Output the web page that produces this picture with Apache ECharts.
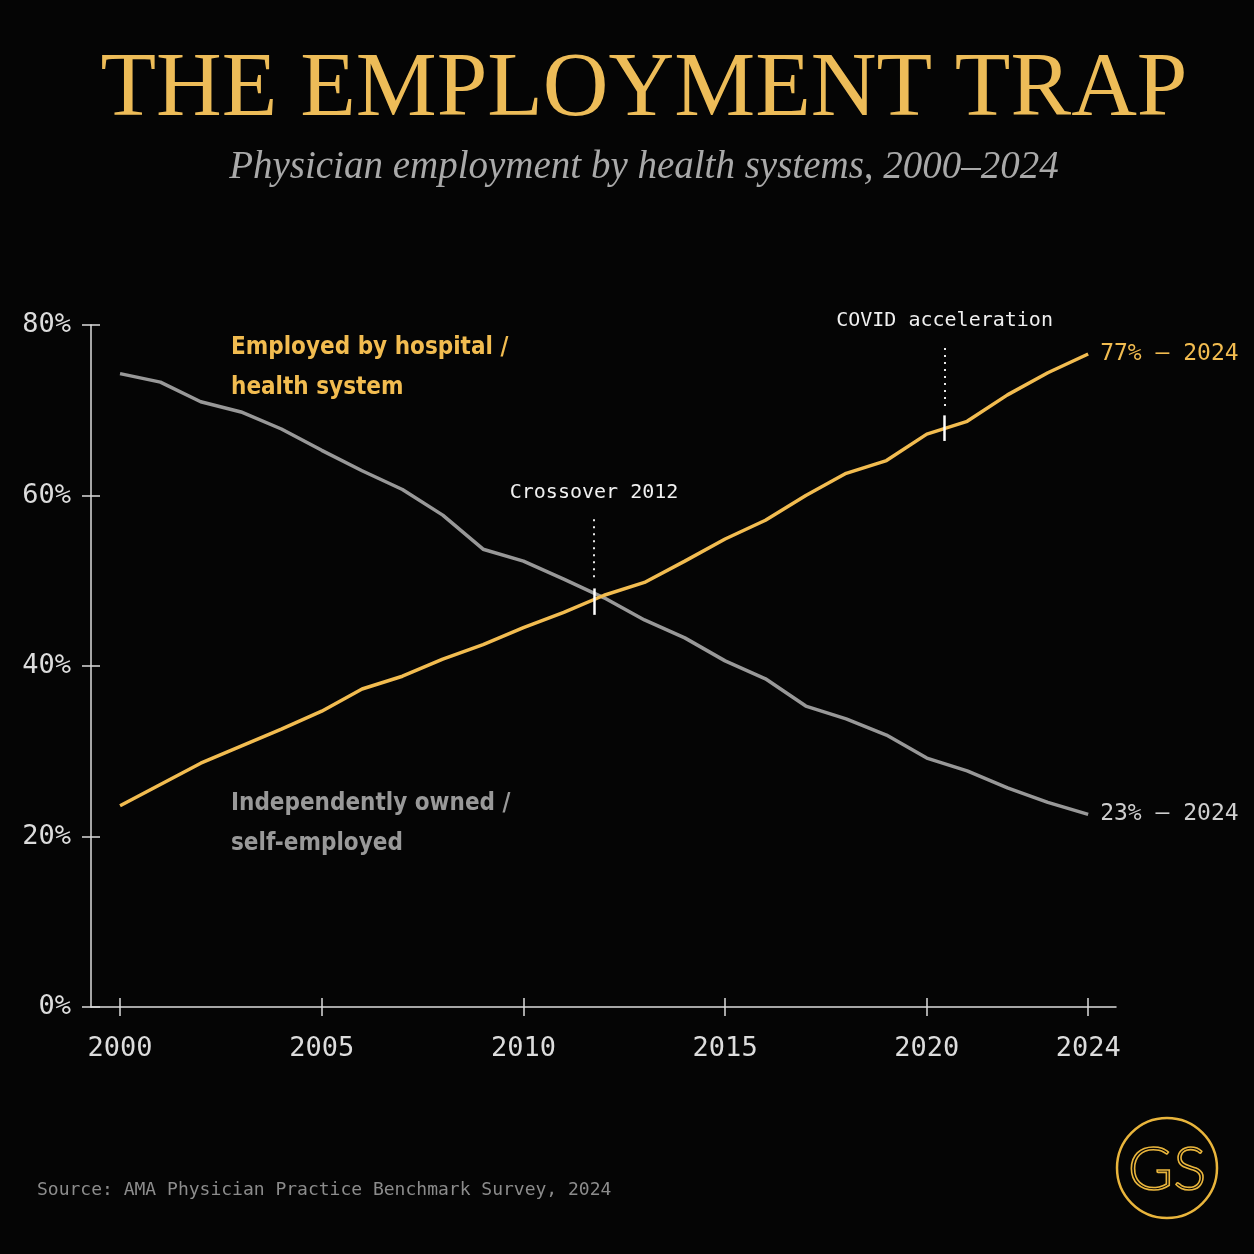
<!DOCTYPE html>
<html>
<head>
	<meta charset="utf-8">
	<title>The Employment Trap</title>
	<script src="https://cdn.jsdelivr.net/npm/echarts@6/dist/echarts.min.js"></script>
	<style type="text/css">
		* {
			margin: 0;
			padding: 0;
		}

		body {
			background: #050505;
			overflow: hidden;
		}
	</style>
</head>
<body>
<div id="main" style="width:1254px;height:1254px;"></div>
</body>
<script type="text/javascript">
    // data (share of physicians, %)
    var years = [2000, 2001, 2002, 2003, 2004, 2005, 2006, 2007, 2008, 2009, 2010, 2011,
        2012, 2013, 2014, 2015, 2016, 2017, 2018, 2019, 2020, 2021, 2022, 2023, 2024];
    var employed = [23.6, 26.1, 28.6, 30.6, 32.6, 34.7, 37.3, 38.8, 40.8, 42.5, 44.5, 46.3,
        48.3, 49.8, 52.3, 54.9, 57.1, 60.0, 62.6, 64.1, 67.2, 68.7, 71.8, 74.4, 76.6];
    var independent = [74.3, 73.3, 71.0, 69.8, 67.8, 65.3, 62.9, 60.7, 57.7, 53.7, 52.3, 50.2,
        48.0, 45.4, 43.3, 40.6, 38.5, 35.3, 33.8, 31.9, 29.2, 27.7, 25.7, 24.0, 22.6];
    var xTicks = [2000, 2005, 2010, 2015, 2020, 2024];
    var yTicks = [0, 20, 40, 60, 80];

    var gold = '#F2BC50';
    var grey = '#989898';
    var axisCol = '#dcdcdc';
    var mono = "'DejaVu Sans Mono', monospace";
    var narrow = "'Liberation Sans Narrow', 'DejaVu Sans Condensed', 'Roboto', sans-serif";

    function pairs(ys) {
        var out = [];
        for (var i = 0; i < years.length; i++) {
            out.push([years[i], ys[i]]);
        }
        return out;
    }

    var myChart = echarts.init(document.getElementById('main'));

    var xBase = {
        type: 'value',
        position: 'bottom',
        min: 1999.28,
        max: 2024.69,
        splitLine: {show: false}
    };
    var yBase = {
        type: 'value',
        position: 'left',
        min: 0,
        max: 80,
        interval: 20,
        splitLine: {show: false}
    };

    // vertical marker pieces (dotted stem + short solid tick on the line)
    function marker(x, lo, hi, dotLo, dotHi, text) {
        return [
            [{coord: [x, lo], lineStyle: {type: 'solid', width: 2.5, color: '#ffffff'}, label: {show: false}},
                {coord: [x, hi]}],
            [{
                coord: [x, dotLo],
                lineStyle: {type: [2, 5], width: 2, color: '#e8e8e8'},
                label: {
                    show: true, position: 'end', formatter: text, distance: 12,
                    color: '#f0f0f0', fontFamily: mono, fontSize: 20
                }
            }, {coord: [x, dotHi]}]
        ];
    }

    var marks = [].concat(
        marker(2011.75, 46.0, 49.1, 50.4, 57.7, 'Crossover 2012'),
        marker(2020.44, 66.4, 69.4, 70.5, 77.9, 'COVID acceleration')
    );

    option = {
        backgroundColor: '#050505',
        animation: false,
        grid: {
            left: 91,
            right: 138,
            top: 325,
            bottom: 247
        },
        xAxis: [
            Object.assign({}, xBase, {
                axisLine: {show: true, lineStyle: {color: axisCol, width: 1.5}},
                axisTick: {show: true, customValues: xTicks, length: 9, lineStyle: {color: axisCol, width: 1.5}},
                axisLabel: {
                    customValues: xTicks, margin: 28, color: axisCol, fontFamily: mono, fontSize: 27,
                    formatter: function (v) { return String(v); }
                }
            }),
            Object.assign({}, xBase, {
                axisLine: {show: false},
                axisTick: {show: true, inside: true, customValues: xTicks, length: 9, lineStyle: {color: axisCol, width: 1.5}},
                axisLabel: {show: false}
            })
        ],
        yAxis: [
            Object.assign({}, yBase, {
                axisLine: {show: true, lineStyle: {color: axisCol, width: 1.5}},
                axisTick: {show: true, customValues: yTicks, length: 9, lineStyle: {color: axisCol, width: 1.5}},
                axisLabel: {
                    customValues: yTicks, margin: 20, color: axisCol, fontFamily: mono, fontSize: 27,
                    formatter: '{value}%'
                }
            }),
            Object.assign({}, yBase, {
                axisLine: {show: false},
                axisTick: {show: true, inside: true, customValues: yTicks, length: 9, lineStyle: {color: axisCol, width: 1.5}},
                axisLabel: {show: false}
            })
        ],
        series: [
            {
                name: 'Independently owned / self-employed',
                type: 'line',
                symbol: 'none',
                data: pairs(independent),
                lineStyle: {color: grey, width: 3.5},
                endLabel: {
                    show: true, distance: 12, color: '#cfcfcf', fontFamily: mono, fontSize: 23,
                    formatter: function (p) { return Math.round(p.value[1]) + '% – ' + p.value[0]; }
                },
                z: 3
            },
            {
                name: 'Employed by hospital / health system',
                type: 'line',
                symbol: 'none',
                data: pairs(employed),
                lineStyle: {color: gold, width: 3.5},
                endLabel: {
                    show: true, distance: 12, color: gold, fontFamily: mono, fontSize: 23,
                    formatter: function (p) { return Math.round(p.value[1]) + '% – ' + p.value[0]; }
                },
                markLine: {
                    silent: true,
                    symbol: 'none',
                    data: marks
                },
                z: 4
            }
        ],
        graphic: [
            {
                type: 'text', x: 644, y: 91,
                style: {
                    text: 'THE EMPLOYMENT TRAP', fill: '#EDBC58',
                    align: 'center', verticalAlign: 'middle',
                    font: '91px "Liberation Serif", serif'
                }
            },
            {
                type: 'text', x: 644, y: 168,
                style: {
                    text: 'Physician employment by health systems, 2000–2024', fill: '#a9a9a9',
                    align: 'center', verticalAlign: 'middle',
                    font: 'italic 39px "Liberation Serif", serif'
                }
            },
            {
                type: 'text', left: 231, top: 328,
                style: {
                    text: 'Employed by hospital /\nhealth system', fill: gold, lineHeight: 40,
                    font: 'bold 24px ' + narrow
                }
            },
            {
                type: 'text', left: 231, top: 784,
                style: {
                    text: 'Independently owned /\nself-employed', fill: '#999999', lineHeight: 40,
                    font: 'bold 24px ' + narrow
                }
            },
            {
                type: 'text', left: 37, top: 1181,
                style: {
                    text: 'Source: AMA Physician Practice Benchmark Survey, 2024', fill: '#8c8c8c',
                    font: '18px ' + mono
                }
            },
            {
                type: 'circle', shape: {cx: 1167, cy: 1168, r: 50},
                style: {fill: 'none', stroke: '#E9B53C', lineWidth: 2.5}
            },
            {
                type: 'text', x: 1167, y: 1170,
                style: {
                    text: 'GS', fill: 'none', stroke: '#E9B53C', lineWidth: 1.6,
                    align: 'center', verticalAlign: 'middle',
                    font: '300 62px Lato, sans-serif'
                }
            }
        ]
    };
    myChart.setOption(option);
</script>

</html>
